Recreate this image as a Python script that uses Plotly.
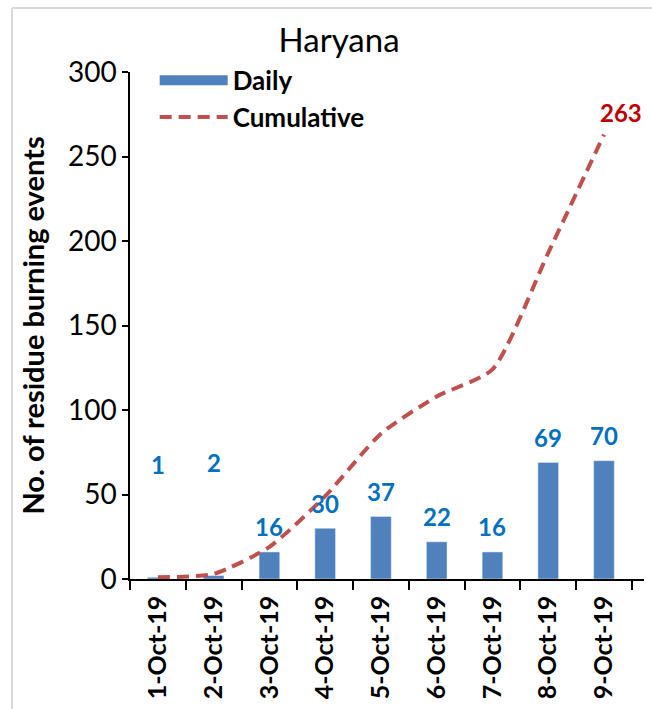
import plotly.graph_objects as go

dates = ["1-Oct-19", "2-Oct-19", "3-Oct-19", "4-Oct-19", "5-Oct-19",
         "6-Oct-19", "7-Oct-19", "8-Oct-19", "9-Oct-19"]
daily = [1, 2, 16, 30, 37, 22, 16, 69, 70]
cumulative = [1, 3, 19, 49, 86, 108, 124, 193, 263]

FONT = "Lato"
W, H = 652, 709
ML, MR, MT, MB = 130, 8, 72, 130
BLUE = "#4F81BD"
RED = "#C0504D"

fig = go.Figure()
# legend-only entry so the "Daily" key is a wide block like in Excel
fig.add_trace(go.Scatter(x=[None], y=[None], mode="lines", name="Daily",
                         line=dict(color=BLUE, width=16)))
fig.add_trace(go.Bar(x=dates, y=daily, name="Daily", width=0.37,
                     marker=dict(color=BLUE), showlegend=False))
fig.add_trace(go.Scatter(
    x=dates, y=cumulative, name="Cumulative", mode="lines",
    line=dict(color=RED, width=4, dash="12px,7px", shape="spline", smoothing=0.6),
))

# daily value labels (first two were pushed up in the original)
for i, (d, v) in enumerate(zip(dates, daily)):
    fig.add_annotation(x=d, y=v, text=str(v), showarrow=False,
                       yshift=113 if i < 2 else 25,
                       font=dict(family=FONT, size=24, color="#0070C0", weight="bold"))
# only the last cumulative point is labelled
fig.add_annotation(x=dates[-1], y=cumulative[-1], text=str(cumulative[-1]), showarrow=False,
                   xshift=17, yshift=22,
                   font=dict(family=FONT, size=24, color="#C00000", weight="bold"))

# light grey frame around the chart
pw = W - ML - MR
ph = H - MT - MB
x0 = (12 - ML) / pw
x1 = (W + 10 - ML) / pw
y1 = 1 + (MT - 8) / ph
fig.add_shape(type="line", xref="paper", yref="paper", x0=x0, x1=x0, y0=-1, y1=y1,
              line=dict(color="#D9D9D9", width=2))
fig.add_shape(type="line", xref="paper", yref="paper", x0=x0, x1=x1, y0=y1, y1=y1,
              line=dict(color="#D9D9D9", width=2))

fig.update_layout(
    width=W, height=H,
    margin=dict(l=ML, r=MR, t=MT, b=MB),
    paper_bgcolor="white", plot_bgcolor="white",
    font=dict(family=FONT, color="black"),
    title=dict(text="Haryana", x=0.52, xanchor="center", y=1 - 40 / H, yanchor="middle",
               font=dict(family=FONT, size=33, color="black")),
    showlegend=True,
    legend=dict(x=0.048, y=1.03, xanchor="left", yanchor="top", bgcolor="rgba(0,0,0,0)",
                font=dict(family=FONT, size=26, color="black", weight="bold"),
                itemwidth=68, tracegroupgap=0),
    bargap=0.6,
    xaxis=dict(
        type="category", showline=True, linecolor="black", linewidth=1.5,
        ticks="outside", tickson="boundaries", ticklen=9, tickcolor="black", tickwidth=1.5,
        tickangle=-90, showgrid=False, ticklabelstandoff=5, automargin=False,
        tickfont=dict(family=FONT, size=25, color="black", weight="bold"),
    ),
    yaxis=dict(
        range=[0, 300], dtick=50, showline=True, linecolor="black", linewidth=1.5,
        ticks="outside", ticklen=6, tickcolor="black", tickwidth=1.5, showgrid=False,
        zeroline=False, automargin=False,
        tickfont=dict(family=FONT, size=28, color="black"),
        title=dict(text="No. of residue burning events", standoff=15,
                   font=dict(family=FONT, size=29, color="black", weight="bold")),
    ),
)

# drop the page's default body margin so the figure sits at the window corner
fig.write_html("out.html", config={"displayModeBar": False},
               post_script="document.body.style.margin='0';")
